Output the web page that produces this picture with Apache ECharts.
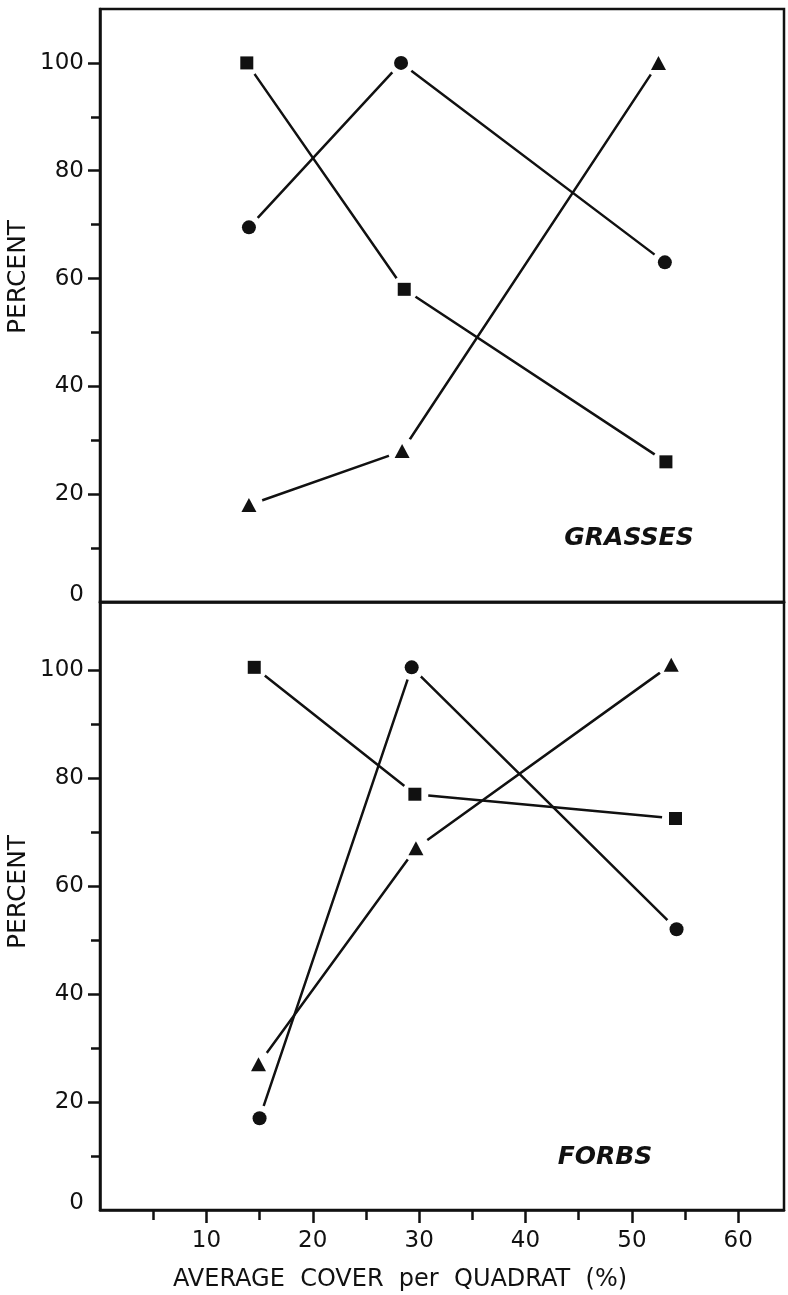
<!DOCTYPE html>
<html><head><meta charset="utf-8">
<script src="https://cdn.jsdelivr.net/npm/echarts@6/dist/echarts.min.js"></script>
<style>html,body{margin:0;padding:0;background:#fff}#c{width:788px;height:1295px}</style>
</head><body><div id="c"></div>
<script>
// ---- data ----
const grassSquareX   = [13.8, 28.6, 53.2];
const grassSquareY   = [100, 58, 26];
const grassCircleX   = [14.0, 28.3, 53.1];
const grassCircleY   = [69.5, 100, 63];
const grassTriangleX = [14.0, 28.4, 52.5];
const grassTriangleY = [18, 28, 100];

const forbSquareX    = [14.5, 29.6, 54.1];
const forbSquareY    = [100.5, 77, 72.5];
const forbCircleX    = [15.0, 29.3, 54.2];
const forbCircleY    = [17, 100.5, 52];
const forbTriangleX  = [14.9, 29.7, 53.7];
const forbTriangleY  = [27, 67, 101];

const yLabelValues = [0, 20, 40, 60, 80, 100];
const yMajorTicks  = [20, 40, 60, 80, 100];
const yMinorTicks  = [10, 30, 50, 70, 90];
const xLabelValues = [10, 20, 30, 40, 50, 60];
const xMinorTicks  = [5, 15, 25, 35, 45, 55];

const panelTitles = ['GRASSES', 'FORBS'];
const yName = 'PERCENT';
const xName = 'AVERAGE  COVER  per  QUADRAT  (%)';

// ---- styling ----
const INK = '#111';
const FONT = 'DejaVu Sans';
const FS = 23;
const pairs = (xs, ys) => xs.map((x, i) => [x, ys[i]]);

const chart = echarts.init(document.getElementById('c'), null, {renderer: 'canvas'});

const grids = [
  {left: 100, top: 9, width: 684, height: 593},
  {left: 100, top: 602, width: 684, height: 608}
];
const yMax = [110, 112.6];
const xMax = 64.3;

const xAxes = [];
const yAxes = [];
for (let g = 0; g < 2; g++) {
  const isBottom = g === 1;
  xAxes.push({
    type: 'value', gridIndex: g, min: 0, max: xMax,
    axisLine: {show: true, lineStyle: {color: INK, width: 2.5}},
    axisTick: {show: isBottom, length: 13, lineStyle: {color: INK, width: 2.5}, customValues: xLabelValues},
    axisLabel: {show: isBottom, customValues: xLabelValues, color: INK, fontFamily: FONT, fontSize: FS, margin: 20},
    splitLine: {show: false}
  });
  xAxes.push({
    type: 'value', gridIndex: g, min: 0, max: xMax, position: 'bottom',
    axisLine: {show: false},
    axisTick: {show: isBottom, length: 10, lineStyle: {color: INK, width: 2.5}, customValues: xMinorTicks},
    axisLabel: {show: false},
    splitLine: {show: false}
  });
  yAxes.push({
    type: 'value', gridIndex: g, min: 0, max: yMax[g], position: 'left',
    axisLine: {show: true, lineStyle: {color: INK, width: 2.5}},
    axisTick: {show: true, length: 12, lineStyle: {color: INK, width: 2.5}, customValues: yMajorTicks},
    axisLabel: {
      customValues: yLabelValues, color: INK, fontFamily: FONT, fontSize: FS, margin: 16,
      formatter: v => v === 0 ? '{z|0}' : String(v),
      rich: {z: {fontFamily: FONT, fontSize: FS, color: INK, padding: [0, 0, 14, 0]}}
    },
    splitLine: {show: false}
  });
  yAxes.push({
    type: 'value', gridIndex: g, min: 0, max: yMax[g], position: 'left',
    axisLine: {show: false},
    axisTick: {show: true, length: 9, lineStyle: {color: INK, width: 2.5}, customValues: yMinorTicks},
    axisLabel: {show: false},
    splitLine: {show: false}
  });
}

const panelData = [
  {sq: pairs(grassSquareX, grassSquareY), ci: pairs(grassCircleX, grassCircleY), tr: pairs(grassTriangleX, grassTriangleY)},
  {sq: pairs(forbSquareX, forbSquareY), ci: pairs(forbCircleX, forbCircleY), tr: pairs(forbTriangleX, forbTriangleY)}
];

const markerDefs = {
  sq: {symbol: 'rect', size: 13, halo: 27},
  ci: {symbol: 'circle', size: 14, halo: 26},
  tr: {symbol: 'triangle', size: [15, 14], halo: 28}
};

const series = [];
// connecting lines
panelData.forEach((p, g) => {
  ['sq', 'ci', 'tr'].forEach(k => {
    series.push({
      type: 'line', xAxisIndex: 2 * g, yAxisIndex: 2 * g, data: p[k],
      symbol: 'none', z: 2, animation: false,
      lineStyle: {color: INK, width: 2.5}
    });
  });
});
// white halos that break the lines near each marker
panelData.forEach((p, g) => {
  ['sq', 'ci', 'tr'].forEach(k => {
    series.push({
      type: 'scatter', xAxisIndex: 2 * g, yAxisIndex: 2 * g, data: p[k],
      symbol: 'circle', symbolSize: markerDefs[k].halo, z: 3, animation: false,
      itemStyle: {color: '#ffffff', opacity: 1}
    });
  });
});
// markers
panelData.forEach((p, g) => {
  ['sq', 'ci', 'tr'].forEach(k => {
    const m = markerDefs[k];
    series.push({
      type: 'scatter', xAxisIndex: 2 * g, yAxisIndex: 2 * g, data: p[k],
      symbol: m.symbol, symbolSize: m.size, z: 4, animation: false,
      itemStyle: {color: INK, opacity: 1}
    });
  });
});

const nameStyle = (txt, size) => ({text: txt, fontFamily: FONT, fontSize: size, fill: INK,
  align: 'center', verticalAlign: 'middle'});
const titleStyle = txt => ({text: txt, fontFamily: FONT, fontSize: 25, fontWeight: 'bold', fontStyle: 'italic',
  fill: INK, align: 'center', verticalAlign: 'middle'});

const graphic = [
  {type: 'text', x: 18, y: 277, rotation: Math.PI / 2, style: nameStyle(yName, 25)},
  {type: 'text', x: 18, y: 892, rotation: Math.PI / 2, style: nameStyle(yName, 25)},
  {type: 'text', x: 400, y: 1280, style: nameStyle(xName, 24)},
  {type: 'text', x: 629, y: 538, style: titleStyle(panelTitles[0])},
  {type: 'text', x: 605, y: 1157, style: titleStyle(panelTitles[1])}
];

chart.setOption({
  backgroundColor: '#fff',
  animation: false,
  grid: grids.map(g => Object.assign({show: true, borderColor: INK, borderWidth: 2.5, backgroundColor: 'transparent'}, g)),
  xAxis: xAxes,
  yAxis: yAxes,
  series: series,
  graphic: graphic
});
</script>
</body></html>
